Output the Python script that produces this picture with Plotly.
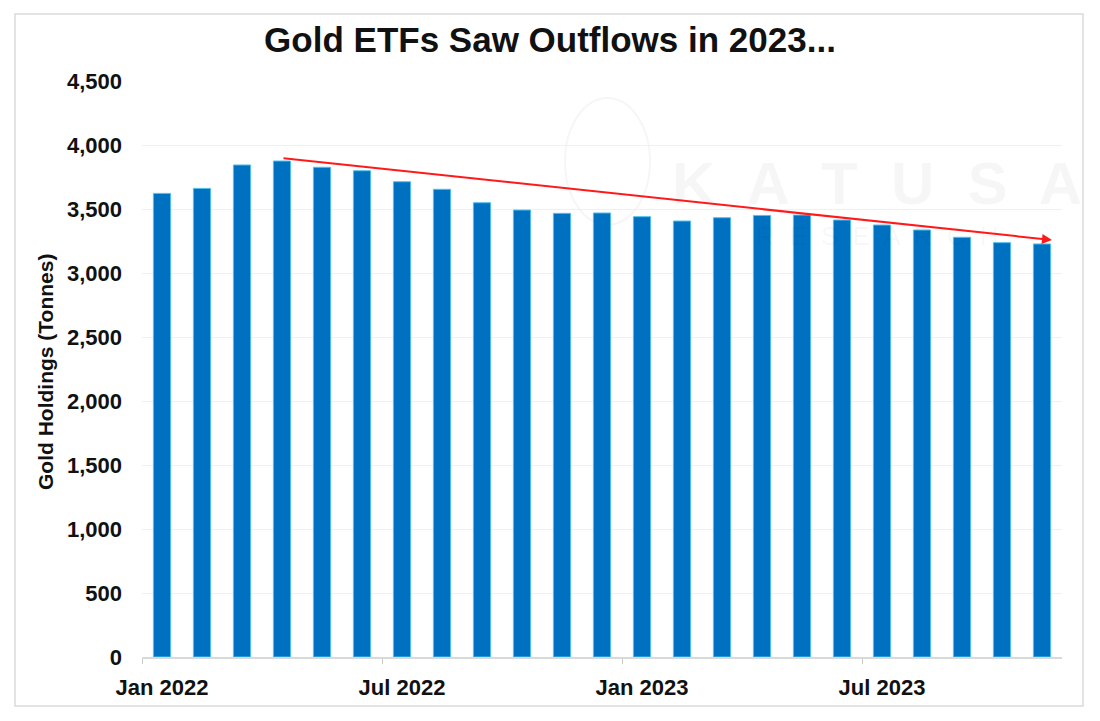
import plotly.graph_objects as go

# ---- data ----
months = ["Jan 2022", "Feb 2022", "Mar 2022", "Apr 2022", "May 2022", "Jun 2022",
          "Jul 2022", "Aug 2022", "Sep 2022", "Oct 2022", "Nov 2022", "Dec 2022",
          "Jan 2023", "Feb 2023", "Mar 2023", "Apr 2023", "May 2023", "Jun 2023",
          "Jul 2023", "Aug 2023", "Sep 2023", "Oct 2023", "Nov 2023"]
holdings = [3622, 3661, 3844, 3875, 3826, 3799, 3713, 3654, 3549, 3492, 3466, 3469,
            3440, 3406, 3432, 3450, 3453, 3414, 3375, 3336, 3279, 3237, 3227]
tick_labels = ["Jan 2022", "Jul 2022", "Jan 2023", "Jul 2023"]
y_ticks = [0, 500, 1000, 1500, 2000, 2500, 3000, 3500, 4000, 4500]
# trend arrow (start at the April 2022 peak, end just past the last bar)
trend_start = (3, 3898)
trend_end = (22.25, 3258)

idx = list(range(len(months)))
tick_idx = [months.index(t) for t in tick_labels]

FONT = "Liberation Sans, Arial, sans-serif"

# page has an 8px body offset; work in figure pixels
OFF = 8
W, H = 1100 - OFF, 721 - OFF
PL, PR, PT, PB = 142 - OFF, 1062 - OFF, 81 - OFF, 657 - OFF
PW, PH = PR - PL, PB - PT


def px(xs):  # screen x -> paper
    return (xs - OFF - PL) / PW


def py(ys):  # screen y -> paper
    return (PB - (ys - OFF)) / PH


fig = go.Figure()
fig.add_trace(go.Bar(
    x=idx, y=holdings, width=0.43,
    marker=dict(color="#0070C0", line=dict(color="#4FC0EE", width=1)),
    customdata=months,
    hovertemplate="%{customdata}: %{y:,} t<extra></extra>",
))

fig.update_layout(
    width=W, height=H,
    margin=dict(l=PL, r=W - PR, t=PT, b=H - PB),
    paper_bgcolor="white", plot_bgcolor="white",
    showlegend=False,
    font=dict(family=FONT, color="#111111"),
    title=dict(text="<b>Gold ETFs Saw Outflows in 2023...</b>",
               x=px(550), xref="paper", xanchor="center",
               y=1 - (40 - OFF) / H, yanchor="middle",
               font=dict(size=35, family=FONT, color="#111111")),
)

fig.update_xaxes(
    range=[-0.5, len(months) - 0.5],
    tickmode="array", tickvals=tick_idx, ticktext=tick_labels,
    ticks="", ticklabelstandoff=10,
    tickfont=dict(size=22, family=FONT, weight="bold", color="#111111"),
    showgrid=False, zeroline=False,
    showline=True, linecolor="#D9D9D9", linewidth=1.5,
    minor=dict(tick0=-0.5, dtick=6, ticks="outside", ticklen=5,
               tickcolor="#C8C8C8", tickwidth=1, showgrid=False),
)
fig.update_yaxes(
    range=[0, 4500],
    tickmode="array", tickvals=y_ticks, tickformat=",",
    ticks="", ticklabelstandoff=19,
    tickfont=dict(size=22, family=FONT, weight="bold", color="#111111"),
    showgrid=True, gridcolor="#F0F0F0", gridwidth=1,
    zeroline=False, showline=False,
)

# y-axis title
fig.add_annotation(
    text="<b>Gold Holdings (Tonnes)</b>", textangle=-90,
    xref="paper", yref="paper", x=px(46), y=py(372),
    xanchor="center", yanchor="middle", showarrow=False,
    font=dict(size=21, family=FONT, color="#111111"),
)

# watermark
fig.add_shape(type="circle", xref="paper", yref="paper",
              x0=px(565), x1=px(650), y0=py(225), y1=py(98),
              line=dict(color="#F6F6F6", width=2), layer="below")
fig.add_annotation(
    text="<b>K  A  T  U  S  A</b>", xref="paper", yref="paper",
    x=px(877), y=py(183), showarrow=False,
    xanchor="center", yanchor="middle",
    font=dict(size=60, family=FONT, color="rgba(0,0,0,0.035)"),
)
fig.add_annotation(
    text="R  E  S  E  A  R  C  H", xref="paper", yref="paper",
    x=px(877), y=py(236), showarrow=False,
    xanchor="center", yanchor="middle",
    font=dict(size=26, family=FONT, color="rgba(0,0,0,0.04)"),
)

# red trend arrow
fig.add_annotation(
    x=trend_end[0], y=trend_end[1], ax=trend_start[0], ay=trend_start[1],
    xref="x", yref="y", axref="x", ayref="y",
    showarrow=True, arrowhead=2, arrowsize=1, arrowwidth=2,
    arrowcolor="#FF1A1A", text="",
)

# outer border
fig.add_shape(type="rect", xref="paper", yref="paper",
              x0=px(15), x1=px(1083), y0=py(706), y1=py(14),
              line=dict(color="#DADADA", width=1.5), layer="below")

fig.write_html("out.html")
